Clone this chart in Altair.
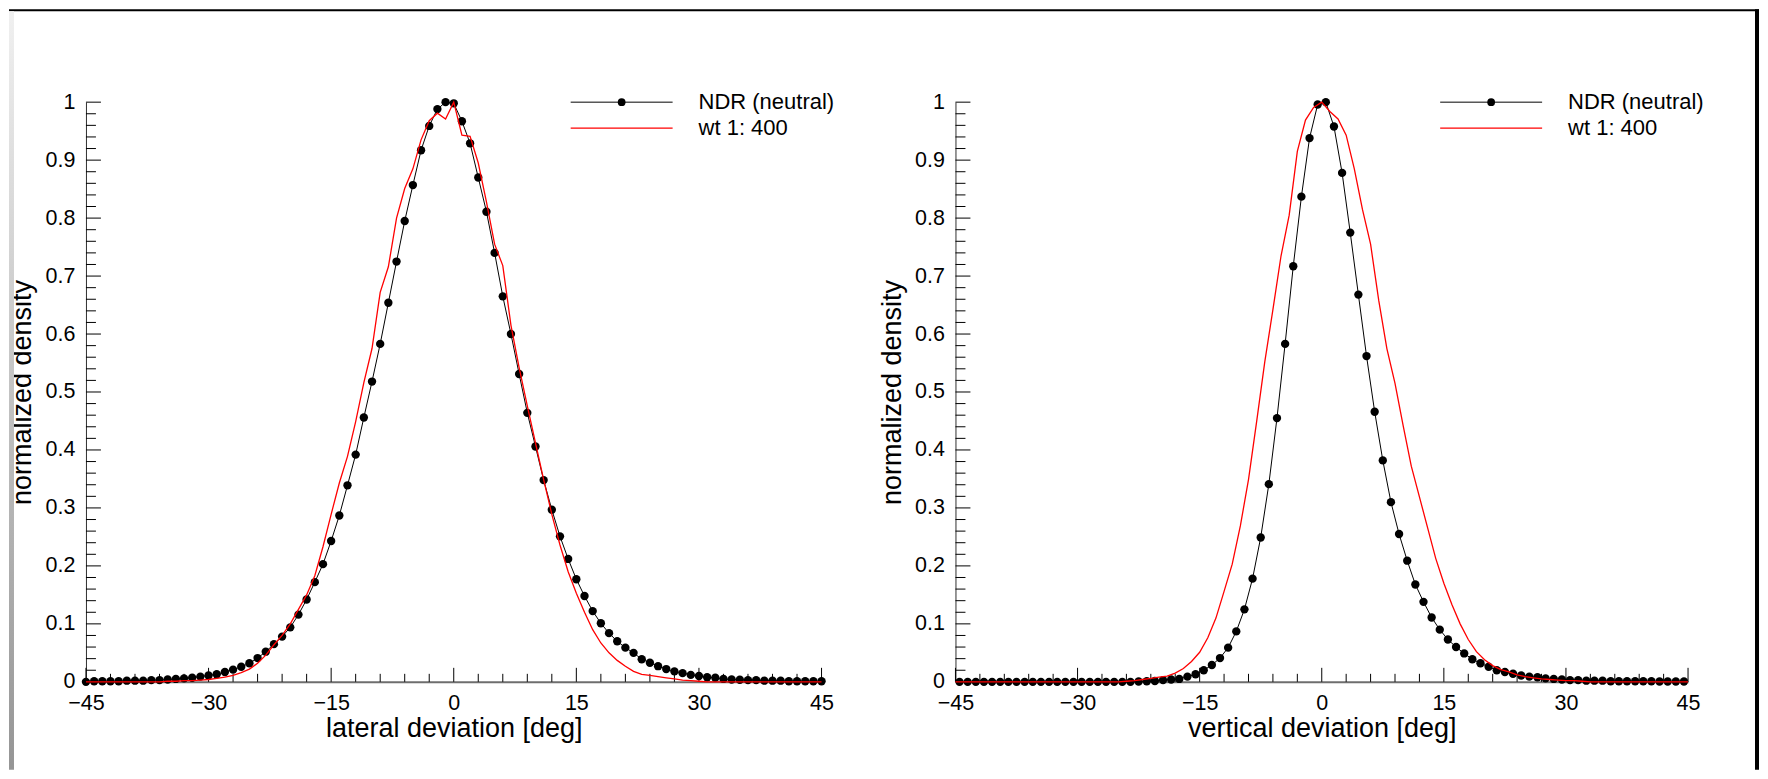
import altair as alt
import pandas as pd

# ---------------- data ----------------
lat_deg = list(range(-45, 46))
lat_ndr = [0.000, 0.001, 0.001, 0.001, 0.001, 0.002, 0.002, 0.002, 0.003, 0.003,
           0.004, 0.005, 0.006, 0.007, 0.009, 0.011, 0.013, 0.017, 0.021, 0.026,
           0.032, 0.041, 0.052, 0.065, 0.078, 0.094, 0.116, 0.142, 0.172, 0.203,
           0.243, 0.287, 0.339, 0.392, 0.456, 0.518, 0.583, 0.654, 0.725, 0.795,
           0.857, 0.917, 0.959, 0.988, 1.000,
           0.998,
           0.967, 0.929, 0.870, 0.811, 0.740, 0.665, 0.600, 0.531, 0.464, 0.406,
           0.348, 0.297, 0.251, 0.212, 0.177, 0.148, 0.122, 0.101, 0.084, 0.070,
           0.059, 0.050, 0.039, 0.033, 0.027, 0.022, 0.018, 0.015, 0.012, 0.010,
           0.008, 0.007, 0.005, 0.004, 0.0035, 0.003, 0.003, 0.002, 0.002, 0.002,
           0.001, 0.001, 0.001, 0.001, 0.001]
lat_wt = [0.0, 0.0, 0.0, 0.0, 0.0, 0.0, 0.0, 0.0, 0.0, 0.0,
          0.001, 0.001, 0.002, 0.002, 0.003, 0.004, 0.006, 0.008, 0.011, 0.016,
          0.022, 0.032, 0.046, 0.064, 0.080, 0.100, 0.125, 0.150, 0.183, 0.233,
          0.289, 0.343, 0.389, 0.449, 0.516, 0.575, 0.672, 0.716, 0.800, 0.851,
          0.885, 0.935, 0.968, 0.981, 0.971,
          1.000,
          0.943, 0.941, 0.895, 0.828, 0.755, 0.718, 0.615, 0.542, 0.476, 0.412,
          0.349, 0.289, 0.236, 0.190, 0.153, 0.120, 0.090, 0.067, 0.050, 0.037,
          0.027, 0.018, 0.013, 0.011, 0.009, 0.007, 0.005, 0.003, 0.002, 0.001,
          0.0, 0.0, 0.0, 0.0, 0.0, 0.0, 0.0, 0.0, 0.0, 0.0,
          0.0, 0.0, 0.0, 0.0, 0.0]

vert_deg_ndr = [d + 0.5 for d in range(-45, 45)]
vert_ndr = [0.0] * 22 + [
    0.0005, 0.001, 0.0015, 0.003, 0.004, 0.005, 0.009, 0.013, 0.020, 0.029,
    0.041, 0.059, 0.087, 0.125, 0.178, 0.249, 0.341, 0.455, 0.583, 0.717,
    0.837, 0.938, 0.996,
    1.000, 0.958, 0.878, 0.775, 0.668, 0.562, 0.466, 0.382, 0.310, 0.255,
    0.209, 0.168, 0.138, 0.111, 0.090, 0.073, 0.060, 0.049, 0.039, 0.032,
    0.026, 0.020, 0.017, 0.014, 0.011, 0.009, 0.008, 0.006, 0.005, 0.004,
    0.003, 0.003, 0.002, 0.002, 0.002, 0.001, 0.001, 0.001, 0.001, 0.001,
    0.001, 0.0005, 0.0005, 0.0005, 0.0005]
vert_deg_wt = list(range(-45, 46))
vert_wt = [0.0] * 21 + [
    0.001, 0.002, 0.004, 0.006, 0.008, 0.010, 0.015, 0.023, 0.035, 0.051,
    0.076, 0.110, 0.156, 0.203, 0.269, 0.349, 0.449, 0.552, 0.642, 0.735,
    0.805, 0.915, 0.969, 0.991,
    1.000,
    0.984, 0.971, 0.943, 0.885, 0.815, 0.755, 0.658, 0.575, 0.515, 0.442,
    0.372, 0.319, 0.266, 0.213, 0.170, 0.133, 0.100, 0.073, 0.052, 0.038,
    0.028, 0.021, 0.017, 0.012, 0.009, 0.007, 0.005, 0.004, 0.003, 0.002,
    0.002, 0.001, 0.0, 0.0, 0.0, 0.0, 0.0, 0.0, 0.0, 0.0,
    0.0, 0.0, 0.0, 0.0, 0.0]

legend_labels = ["NDR (neutral)", "wt 1: 400"]
x_titles = ["lateral deviation [deg]", "vertical deviation [deg]"]
y_title = "normalized density"

x_major = [-45, -30, -15, 0, 15, 30, 45]
x_minor = [v for v in range(-45, 46, 3) if v % 15 != 0]
y_major = [round(i * 0.1, 1) for i in range(11)]
y_minor = [round(i * 0.02, 2) for i in range(51) if i % 5 != 0]

FONT = "Liberation Sans"
H = 580
W_L, W_R = 736, 733

one = pd.DataFrame({"k": [0]})


def panel(deg_ndr, val_ndr, deg_wt, val_wt, xtitle, W, extra):
    ndr = pd.DataFrame({"deg": deg_ndr, "density": val_ndr})
    wt = pd.DataFrame({"deg": deg_wt, "density": val_wt})
    xs = alt.Scale(domain=[-45, 45], nice=False, zero=False)
    ys = alt.Scale(domain=[0, 1], nice=False)

    x_lab = alt.Axis(values=x_major, ticks=False, tickSize=0, domain=True,
                     domainColor="#6e6e6e", domainWidth=2, grid=False,
                     labelFont=FONT, labelFontSize=21.5, labelColor="black",
                     labelPadding=11, labelFlush=False, labelOverlap=False,
                     titleFont=FONT, titleFontSize=27, titleFontWeight="normal",
                     titleColor="black", titleY=46.5, titleBaseline="middle")
    y_lab = alt.Axis(values=y_major, format="~g", ticks=False, tickSize=0,
                     domain=True, domainColor="#303030", domainWidth=1, grid=False,
                     labelFont=FONT, labelFontSize=21.5, labelColor="black",
                     labelPadding=11, labelFlush=False, labelOverlap=False,
                     titleFont=FONT, titleFontSize=27, titleFontWeight="normal",
                     titleColor="black", titleX=-63, titleBaseline="middle")

    def xticks(vals, size):
        return alt.Chart(pd.DataFrame({"v": vals})).mark_rule(
            color="black", strokeWidth=1).encode(
            x=alt.X("v:Q", scale=xs, axis=None),
            y=alt.value(H), y2=alt.value(H - size))

    def yticks(vals, size):
        return alt.Chart(pd.DataFrame({"v": vals})).mark_rule(
            color="black", strokeWidth=1).encode(
            y=alt.Y("v:Q", scale=ys, axis=None),
            x=alt.value(0), x2=alt.value(size))

    black_line = alt.Chart(ndr).mark_line(color="black", strokeWidth=1).encode(
        x=alt.X("deg:Q", scale=xs, title=xtitle, axis=x_lab),
        y=alt.Y("density:Q", scale=ys, title=y_title, axis=y_lab),
    )
    black_pts = alt.Chart(ndr).mark_circle(color="black", size=70, opacity=1).encode(
        x=alt.X("deg:Q", scale=xs, axis=None),
        y=alt.Y("density:Q", scale=ys, axis=None),
    )
    red_line = alt.Chart(wt).mark_line(color="#ff0000", strokeWidth=1.3).encode(
        x=alt.X("deg:Q", scale=xs, axis=None),
        y=alt.Y("density:Q", scale=ys, axis=None),
    )

    leg = [
        alt.Chart(one).mark_rule(color="black", strokeWidth=1).encode(
            x=alt.value(485), x2=alt.value(587), y=alt.value(0)),
        alt.Chart(one).mark_circle(color="black", size=60, opacity=1).encode(
            x=alt.value(536), y=alt.value(0)),
        alt.Chart(one).mark_text(align="left", baseline="middle", font=FONT,
                                 fontSize=22, color="black").encode(
            x=alt.value(613), y=alt.value(0), text=alt.value(legend_labels[0])),
        alt.Chart(one).mark_rule(color="#ff0000", strokeWidth=1.3).encode(
            x=alt.value(485), x2=alt.value(587), y=alt.value(26)),
        alt.Chart(one).mark_text(align="left", baseline="middle", font=FONT,
                                 fontSize=22, color="black").encode(
            x=alt.value(613), y=alt.value(26), text=alt.value(legend_labels[1])),
    ]

    layers = [black_line] + extra + [xticks(x_major, 14), xticks(x_minor, 8),
                                     yticks(y_major, 15), yticks(y_minor, 10),
                                     black_pts, red_line] + leg
    return alt.layer(*layers).properties(width=W, height=H).resolve_axis(
        x="independent", y="independent")


# window-frame decorations seen in the screenshot
grad = alt.LinearGradient(gradient="linear", x1=0, y1=0, x2=0, y2=1,
                          stops=[alt.GradientStop(color="#f0f0f0", offset=0),
                                 alt.GradientStop(color="#959595", offset=1)])
left_extra = [
    alt.Chart(one).mark_rect(color="black").encode(
        x=alt.value(-77), x2=alt.value(1674), y=alt.value(-93), y2=alt.value(-91)),
    alt.Chart(one).mark_rect(color=grad).encode(
        x=alt.value(-77), x2=alt.value(-72), y=alt.value(-91), y2=alt.value(668)),
]
right_extra = [
    alt.Chart(one).mark_rect(color="black").encode(
        x=alt.value(800), x2=alt.value(804), y=alt.value(-93), y2=alt.value(668)),
]

left = panel(lat_deg, lat_ndr, lat_deg, lat_wt, x_titles[0], W_L, left_extra)
right = panel(vert_deg_ndr, vert_ndr, vert_deg_wt, vert_wt, x_titles[1], W_R, right_extra)

chart = alt.hconcat(left, right, spacing=134, bounds="flush").properties(
    padding={"left": 0, "top": 0, "right": 0, "bottom": 0},
    background="white",
).configure_view(stroke="transparent")

chart.save("out.html", embed_options={"renderer": "svg", "actions": False})
